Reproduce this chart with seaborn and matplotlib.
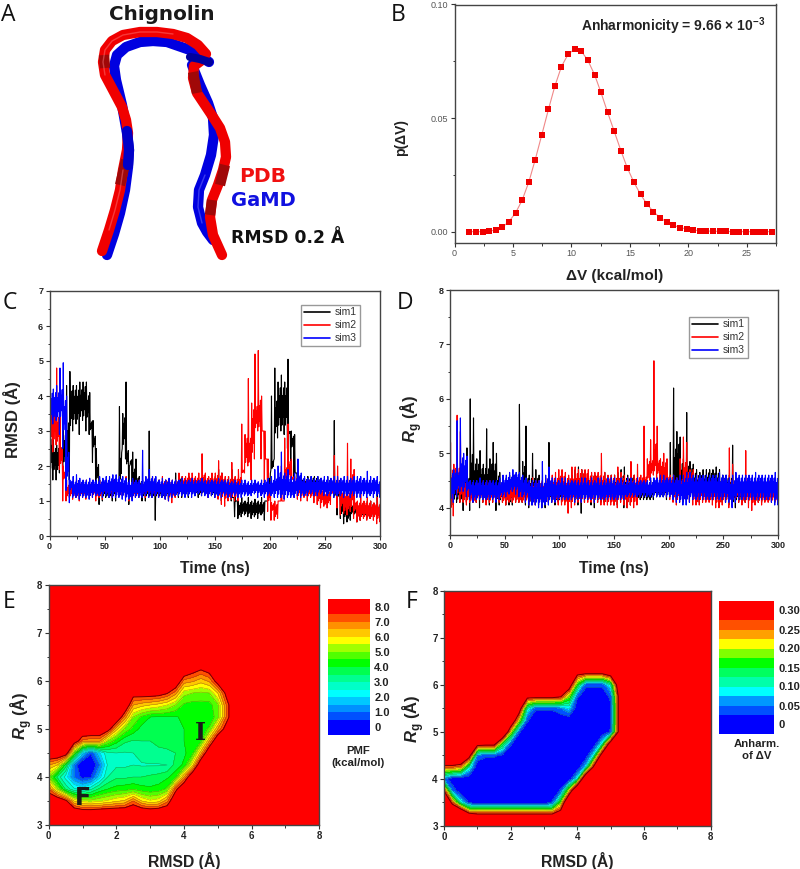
"""Chignolin GaMD figure: structure sketch, dV histogram, time series and 2D maps."""
import numpy as np
import pandas as pd
import matplotlib
matplotlib.use("Agg")
import matplotlib.pyplot as plt
from matplotlib.colors import ListedColormap, BoundaryNorm
from matplotlib.ticker import MultipleLocator
import seaborn as sns

# --- panel B
DV_X = [1.25, 1.82, 2.40, 2.97, 3.54, 4.08, 4.65, 5.22, 5.79, 6.36, 6.90, 7.47, 8.04, 8.58, 9.15, 9.72,
        10.29, 10.84, 11.41, 11.98, 12.52, 13.09, 13.66, 14.23, 14.77, 15.34, 15.91, 16.48, 17.02, 17.59,
        18.16, 18.73, 19.28, 19.85, 20.42, 20.99, 21.53, 22.10, 22.67, 23.24, 23.78, 24.35, 24.92, 25.49,
        26.03, 26.60, 27.17]
DV_P = [0, 0, 0, .0001, .0009, .0019, .0044, .0082, .0139, .0219, .0316, .0427, .0539, .0640, .0727, .0781,
        .0804, .0795, .0754, .0691, .0614, .0526, .0442, .0357, .0282, .0218, .0164, .0120, .0088, .0061,
        .0042, .0028, .0018, .0012, .0007, .0004, .0003, .0002, .0001, .0001, 0, 0, 0, 0, 0, 0, 0]

# --- panels C and D: low/high of the noise band, one pair per 3 ns
C_SIM1_LOW = [1.8, 1.6, 1.6, 1.8, 2.0, 1.6, 1.6, 3.0, 3.2, 2.9,
              3.3, 3.0, 2.9, 2.1, 1.2, 0.9, 1.0, 1.1, 1.1, 1.0,
              1.0, 1.4, 2.5, 2.2, 0.9, 1.3, 1.2, 1.1, 1.0, 1.0,
              1.1, 1.1, 0.45, 1.1, 1.1, 1.1, 1.05, 1.1, 1.15, 1.1,
              1.1, 1.15, 1.1, 1.2, 1.15, 1.1, 1.15, 1.2, 1.1, 1.15,
              1.1, 1.1, 1.0, 1.15, 1.1, 1.0, 0.55, 0.5, 0.55, 0.6,
              0.55, 0.5, 0.55, 0.5, 0.6, 0.45, 1.0, 1.9, 2.2, 2.8,
              3.0, 2.9, 2.5, 1.8, 1.6, 1.4, 1.2, 1.3, 1.3, 1.2,
              1.25, 1.2, 1.3, 1.2, 1.25, 1.1, 1.1, 0.6, 0.5, 0.35,
              0.4, 0.45, 0.6, 0.4, 0.45, 0.55, 0.5, 0.5, 0.55, 0.5, 0.5]
C_SIM1_HIGH = [3.4, 2.9, 2.6, 3.0, 3.4, 4.3, 4.7, 4.3, 4.3, 4.4,
               4.4, 4.4, 4.1, 3.3, 2.5, 1.6, 1.5, 1.6, 1.5, 1.6,
               1.5, 3.7, 3.5, 4.4, 2.0, 2.4, 2.2, 1.7, 1.6, 1.5,
               3.0, 1.6, 1.5, 1.6, 1.5, 1.6, 1.6, 1.5, 1.8, 1.7,
               1.7, 1.6, 1.7, 1.5, 1.6, 1.5, 1.6, 1.5, 1.6, 1.5,
               1.7, 1.9, 1.8, 1.6, 1.7, 1.9, 1.1, 1.0, 1.1, 1.0,
               1.1, 1.0, 1.05, 1.0, 1.1, 1.0, 1.9, 4.0, 4.8, 4.4,
               4.6, 4.4, 5.05, 3.0, 2.9, 1.8, 1.7, 1.65, 1.7, 1.7,
               1.7, 1.7, 1.65, 1.6, 1.7, 1.6, 3.3, 1.6, 1.4, 1.0,
               0.95, 0.9, 1.0, 0.9, 0.9, 0.8, 1.0, 1.0, 0.9, 1.3, 1.0]
C_SIM2_LOW = [2.0, 2.4, 2.6, 1.9, 1.0, 1.0, 1.1, 1.05, 1.1, 1.0,
              1.1, 1.05, 1.15, 1.1, 1.0, 1.1, 1.05, 1.2, 1.2, 1.1,
              1.15, 1.2, 1.15, 1.1, 1.0, 1.05, 1.1, 1.1, 1.2, 1.1,
              1.2, 1.2, 1.15, 1.1, 1.2, 1.05, 1.0, 0.95, 1.1, 1.2,
              1.25, 1.2, 1.3, 1.2, 1.25, 1.3, 1.2, 1.25, 1.1, 1.2,
              1.1, 1.05, 0.9, 0.85, 1.0, 1.05, 1.0, 1.0, 1.4, 1.8,
              2.0, 1.6, 2.2, 3.0, 2.2, 1.5, 0.7, 0.45, 0.45, 0.5,
              1.0, 1.0, 1.6, 1.2, 1.1, 1.05, 1.0, 1.1, 1.0, 1.1,
              0.95, 0.9, 0.8, 0.85, 0.8, 0.9, 1.2, 0.8, 0.6, 0.65,
              0.6, 0.7, 0.5, 0.4, 0.45, 0.5, 0.45, 0.5, 0.45, 0.35, 0.4]
C_SIM2_HIGH = [4.3, 4.0, 4.8, 3.5, 2.0, 1.6, 1.5, 1.5, 1.6, 1.5,
               1.5, 1.6, 1.5, 1.6, 1.5, 1.6, 1.5, 1.6, 1.5, 1.6,
               1.5, 1.6, 1.5, 1.7, 1.5, 1.6, 1.5, 1.6, 1.5, 1.6,
               1.7, 1.7, 1.5, 1.6, 1.7, 1.6, 1.6, 1.6, 1.6, 1.8,
               1.7, 1.7, 1.8, 1.8, 1.7, 1.8, 2.35, 1.8, 1.7, 1.8,
               1.8, 2.15, 1.8, 1.7, 1.7, 2.1, 1.7, 1.9, 3.2, 2.9,
               4.5, 3.8, 5.2, 5.3, 4.0, 3.0, 2.2, 0.95, 1.0, 1.0,
               2.0, 2.8, 3.2, 2.2, 1.7, 1.7, 1.6, 1.6, 1.6, 1.5,
               1.5, 1.5, 1.4, 1.4, 1.3, 1.6, 2.3, 2.0, 1.3, 1.3,
               2.65, 2.2, 1.9, 1.0, 1.2, 1.0, 1.1, 1.0, 0.95, 1.1, 1.0]
C_SIM3_LOW = [3.0, 3.2, 3.3, 2.9, 2.5, 1.3, 0.95, 1.1, 1.1, 1.05,
              1.1, 1.1, 1.05, 1.1, 1.15, 1.15, 1.1, 1.15, 1.1, 1.1,
              1.1, 1.1, 1.05, 1.0, 1.05, 1.0, 1.1, 1.1, 1.1, 1.15,
              1.1, 1.1, 1.15, 1.1, 1.1, 1.05, 1.0, 1.1, 1.15, 1.15,
              1.15, 1.1, 1.15, 1.1, 1.15, 1.2, 1.15, 1.15, 1.1, 1.15,
              1.1, 1.15, 1.1, 1.15, 1.1, 1.1, 1.15, 1.1, 1.1, 1.15,
              1.15, 1.15, 1.2, 1.1, 1.15, 1.1, 1.15, 1.15, 1.1, 1.1,
              1.1, 1.05, 1.1, 1.1, 1.1, 1.15, 1.1, 1.15, 1.15, 1.2,
              1.15, 1.15, 1.2, 1.15, 1.15, 1.15, 1.1, 1.15, 1.15, 1.1,
              1.15, 1.1, 1.15, 1.1, 1.1, 1.15, 1.1, 1.15, 1.1, 1.15, 1.1]
C_SIM3_HIGH = [4.3, 4.2, 4.3, 4.8, 4.95, 4.0, 1.6, 1.7, 1.75, 1.65,
               1.6, 1.6, 1.65, 1.6, 1.6, 1.7, 1.65, 1.7, 1.7, 1.75,
               1.75, 1.7, 1.7, 1.65, 1.6, 1.65, 1.6, 1.6, 2.45, 1.7,
               1.9, 1.7, 1.7, 1.6, 1.65, 1.6, 1.65, 1.6, 1.6, 1.6,
               1.65, 1.6, 1.6, 1.65, 1.6, 1.6, 1.65, 1.6, 1.6, 1.6,
               1.6, 1.65, 1.6, 1.6, 1.6, 1.55, 1.6, 1.55, 1.6, 1.6,
               1.55, 1.6, 1.6, 1.55, 1.6, 1.6, 1.65, 1.7, 1.9, 2.0,
               2.4, 1.8, 1.9, 1.7, 1.8, 2.2, 1.8, 1.7, 1.65, 1.7,
               1.65, 1.7, 1.65, 1.7, 1.7, 1.65, 1.7, 1.7, 1.65, 1.7,
               1.7, 1.65, 1.7, 1.7, 1.7, 1.65, 1.85, 1.7, 1.65, 1.7, 1.6]

D_SIM1_LOW = [4.05, 4.05, 4.1, 4.1, 3.95, 4.1, 3.95, 4.1, 4.1, 4.0,
              4.1, 4.1, 4.05, 4.1, 3.95, 4.05, 4.1, 4.05, 4.05, 4.05,
              4.1, 4.1, 4.1, 4.05, 4.0, 4.05, 4.1, 4.05, 4.0, 4.0,
              4.1, 4.1, 4.05, 4.1, 4.1, 4.1, 4.1, 4.1, 4.1, 4.05,
              3.9, 4.1, 4.15, 4.05, 4.0, 4.1, 4.1, 4.1, 4.1, 4.1,
              4.05, 4.05, 4.1, 4.0, 4.0, 4.05, 4.15, 4.15, 4.15, 4.15,
              4.15, 4.15, 4.15, 4.2, 4.2, 4.2, 4.15, 4.2, 4.2, 4.15,
              4.15, 4.1, 4.15, 4.15, 4.15, 4.15, 4.1, 4.2, 4.15, 4.15,
              4.15, 4.15, 4.1, 4.1, 4.1, 4.05, 4.05, 4.0, 4.1, 4.1,
              4.1, 4.15, 4.1, 4.1, 4.1, 4.1, 4.15, 4.15, 4.15, 4.1, 4.1]
D_SIM1_HIGH = [4.6, 4.6, 4.65, 4.6, 4.6, 5.1, 6.0, 5.65, 4.9, 5.05,
               4.8, 5.45, 4.9, 5.2, 5.0, 4.65, 4.5, 4.55, 4.6, 4.6,
               4.6, 5.9, 4.85, 5.5, 4.6, 5.0, 4.7, 4.6, 4.5, 4.5,
               5.2, 4.5, 4.5, 4.55, 4.5, 4.5, 4.55, 4.6, 4.7, 4.75,
               4.7, 4.65, 4.6, 4.6, 4.6, 4.6, 4.6, 4.65, 4.55, 4.6,
               4.6, 4.65, 4.7, 4.75, 4.6, 4.7, 4.6, 4.5, 4.45, 4.5,
               4.5, 4.5, 4.5, 4.5, 4.5, 4.55, 4.6, 5.2, 6.2, 5.4,
               5.3, 4.9, 5.75, 4.85, 4.8, 4.7, 4.65, 4.7, 4.7, 4.7,
               4.7, 4.75, 4.7, 4.6, 4.6, 4.6, 5.15, 4.55, 4.5, 4.5,
               4.45, 4.5, 4.45, 4.5, 4.45, 4.5, 4.45, 4.5, 4.45, 4.5, 4.45]
D_SIM2_LOW = [3.9, 3.85, 4.2, 4.1, 4.1, 4.05, 4.1, 4.1, 4.1, 4.15,
              4.1, 4.05, 4.1, 4.1, 4.15, 4.1, 4.1, 4.05, 4.1, 4.1,
              4.1, 4.1, 4.1, 4.1, 4.05, 4.1, 4.05, 4.1, 4.1, 4.1,
              4.1, 4.1, 4.1, 4.05, 4.05, 4.05, 3.9, 4.0, 4.05, 4.1,
              4.1, 4.1, 4.1, 4.1, 4.1, 4.1, 4.05, 4.05, 4.05, 4.05,
              4.05, 4.0, 4.1, 4.05, 4.0, 4.05, 4.0, 4.05, 4.2, 4.2,
              4.3, 4.5, 4.6, 4.4, 4.3, 4.3, 4.2, 4.15, 4.1, 4.05,
              4.1, 4.3, 4.2, 4.1, 4.05, 4.05, 4.05, 4.1, 4.1, 4.1,
              4.05, 4.0, 4.0, 4.05, 4.1, 4.0, 4.1, 4.15, 4.1, 4.05,
              4.1, 4.0, 3.95, 4.05, 4.1, 4.05, 4.1, 4.1, 4.1, 4.1, 4.1]
D_SIM2_HIGH = [5.2, 4.8, 5.7, 5.4, 4.6, 4.5, 4.5, 4.4, 4.45, 4.5,
               4.5, 4.5, 4.5, 4.45, 4.4, 4.4, 4.45, 4.5, 4.45, 4.5,
               4.5, 4.5, 4.45, 4.5, 4.5, 4.55, 4.5, 4.5, 4.5, 4.55,
               4.6, 4.6, 4.65, 4.7, 4.7, 4.65, 4.6, 4.75, 4.75, 4.7,
               4.7, 4.7, 4.7, 4.65, 4.65, 4.65, 5.0, 4.65, 4.6, 4.6,
               4.6, 4.75, 4.65, 4.6, 4.55, 4.85, 4.6, 4.8, 4.6, 5.5,
               4.9, 5.25, 6.7, 5.5, 4.9, 5.0, 4.9, 4.6, 4.6, 4.55,
               4.9, 5.3, 5.2, 4.7, 4.7, 4.6, 4.55, 4.55, 4.5, 4.5,
               4.5, 4.5, 4.5, 4.5, 4.55, 5.1, 4.8, 4.5, 4.45, 4.5,
               5.05, 4.5, 4.45, 4.5, 4.45, 4.5, 4.45, 4.5, 4.45, 4.45, 4.45]
D_SIM3_LOW = [4.1, 4.1, 4.2, 4.3, 4.3, 4.2, 4.15, 4.1, 4.15, 4.15,
              4.15, 4.15, 4.15, 4.15, 4.1, 4.15, 4.2, 4.2, 4.25, 4.3,
              4.25, 4.2, 4.2, 4.1, 4.05, 4.05, 4.05, 4.0, 4.0, 4.05,
              4.05, 4.1, 4.1, 4.15, 4.15, 4.15, 4.15, 4.15, 4.1, 4.15,
              4.1, 4.15, 4.15, 4.15, 4.1, 4.15, 4.15, 4.15, 4.15, 4.15,
              4.15, 4.15, 4.15, 4.15, 4.2, 4.2, 4.2, 4.2, 4.2, 4.2,
              4.2, 4.2, 4.2, 4.2, 4.2, 4.2, 4.2, 4.2, 4.15, 4.1,
              4.1, 4.05, 4.05, 4.1, 4.15, 4.15, 4.15, 4.15, 4.15, 4.15,
              4.15, 4.15, 4.15, 4.15, 4.1, 4.1, 4.0, 4.1, 4.15, 4.15,
              4.15, 4.15, 4.15, 4.15, 4.15, 4.15, 4.15, 4.15, 4.1, 4.05, 4.05]
D_SIM3_HIGH = [4.7, 4.7, 5.6, 5.65, 5.0, 4.95, 4.5, 4.5, 4.5, 4.55,
               4.5, 4.5, 4.5, 4.5, 4.5, 4.55, 4.6, 4.6, 4.65, 4.7,
               4.65, 4.65, 4.6, 4.55, 4.5, 4.5, 4.5, 4.5, 4.85, 4.6,
               4.75, 4.55, 4.55, 4.5, 4.55, 4.55, 4.5, 4.5, 4.5, 4.5,
               4.55, 4.55, 4.5, 4.55, 4.5, 4.55, 4.55, 4.5, 4.55, 4.55,
               4.55, 4.5, 4.55, 4.5, 4.55, 4.55, 4.5, 4.55, 4.5, 4.5,
               4.5, 4.55, 4.55, 4.55, 4.6, 4.6, 4.55, 4.55, 4.6, 4.55,
               4.6, 4.6, 4.65, 4.65, 4.6, 4.6, 4.6, 4.6, 4.6, 4.6,
               4.6, 4.6, 4.65, 4.6, 4.6, 4.55, 4.6, 4.65, 4.6, 4.6,
               4.6, 4.6, 4.6, 4.65, 4.6, 4.6, 4.6, 4.6, 4.6, 4.65, 4.6]

SIM_NAMES = ["sim1", "sim2", "sim3"]
SIM_COLORS = ["#000000", "#ff0000", "#0000ff"]

# --- panels E and F: values on a 0.25 A grid, beyond it everything is the top band
GRID_RMSD = [0, .25, .5, .75, 1, 1.25, 1.5, 1.75, 2, 2.25, 2.5, 2.75, 3, 3.25, 3.5, 3.75, 4, 4.25, 4.5, 4.75,
             5, 5.25, 5.5]
GRID_RG = [3, 3.25, 3.5, 3.75, 4, 4.25, 4.5, 4.75, 5, 5.25, 5.5, 5.75, 6, 6.25, 6.5]
PMF_GRID = [
    [8.6] * 23,
    [8.6, 8.6, 8.6, 8.6, 8.4, 8.4, 8.5, 8.6, 8.6, 8.6, 8.6, 8.6, 8.5, 8.6, 8.6] + [8.6] * 8,
    [8.6, 8.6, 7.8, 6.0, 5.3, 5.2, 5.4, 5.6, 5.9, 6.1, 7.0, 6.0, 5.6, 5.8, 6.8, 8.6] + [8.6] * 7,
    [7.0, 5.2, 3.4, 2.6, 2.3, 2.9, 3.6, 4.0, 4.2, 4.3, 4.4, 4.2, 4.1, 4.2, 4.6, 7.2, 8.6] + [8.6] * 6,
    [5.0, 3.4, 2.3, 1.0, 0.3, 0.5, 1.8, 3.0, 3.4, 3.4, 3.5, 3.5, 3.6, 3.7, 3.9, 4.3, 6.5, 8.6] + [8.6] * 5,
    [6.5, 6.0, 3.8, 1.0, -0.3, -0.3, 1.0, 2.6, 2.9, 2.9, 3.0, 2.95, 2.95, 2.95, 3.0, 3.7, 4.1, 5.8, 8.6] + [8.6] * 4,
    [8.6, 8.6, 8.3, 4.6, 1.8, 0.6, 1.9, 2.9, 3.0, 2.95, 3.0, 3.2, 3.4, 3.45, 3.45, 3.5, 3.9, 4.3, 6.3, 8.6] + [8.6] * 3,
    [8.6, 8.6, 8.6, 8.2, 6.8, 6.6, 6.6, 5.0, 4.2, 3.6, 3.45, 3.5, 3.5, 3.55, 3.6, 3.7, 4.0, 4.1, 4.4, 6.5, 8.6] + [8.6] * 2,
    [8.6] * 7 + [8.0, 6.2, 4.9, 4.3, 3.8, 3.8, 3.8, 3.8, 3.9, 4.0, 4.2, 4.2, 4.6, 6.5, 8.0, 8.6],
    [8.6] * 8 + [8.6, 6.8, 5.0, 4.4, 4.0, 3.95, 3.95, 3.95, 4.1, 4.2, 4.1, 4.1, 4.8, 7.0, 8.6],
    [8.6] * 9 + [8.6, 6.5, 6.2, 6.0, 5.8, 5.5, 5.0, 4.4, 4.3, 4.3, 4.3, 4.9, 7.0, 8.6],
    [8.6] * 10 + [8.0, 8.1, 8.1, 8.0, 7.6, 6.7, 5.2, 5.0, 4.9, 5.0, 6.0, 7.8, 8.6],
    [8.6] * 15 + [8.6, 6.8, 6.6, 6.2, 6.6, 8.0, 8.6, 8.6],
    [8.6] * 16 + [8.6, 8.0, 7.6, 8.0, 8.6, 8.6, 8.6],
    [8.6] * 23,
]
ANH_GRID = [
    [.42] * 23,
    [.42, .42, .42, .3] + [.28] * 9 + [.28, .33] + [.42] * 8,
    [.42, .25, .1, .02] + [0] * 9 + [.03, .17, .42, .42] + [.42] * 6,
    [.27, .05] + [0] * 12 + [.03, .2, .42, .42] + [.42] * 5,
    [.05] + [0] * 15 + [.1, .4, .42] + [.42] * 4,
    [.25, .25, .23, .1] + [0] * 13 + [.08, .3, .42] + [.42] * 3,
    [.42, .42, .42, .32, .05, .03, .03, .02] + [0] * 10 + [.1, .33, .42] + [.42] * 2,
    [.42] * 4 + [.32, .31, .31, .15, .03] + [0] * 10 + [.1, .33, .42, .42],
    [.42] * 7 + [.42, .2, .03] + [0] * 10 + [.03, .3, .42],
    [.42] * 8 + [.37, .2, .03] + [0] * 9 + [.02, .3, .42],
    [.42] * 9 + [.33, .1, .03, .03, .03, .05, .08, 0, 0, 0, 0, .02, .3, .42],
    [.42] * 10 + [.3, .3, .3, .3, .28, .18, .03, .01, .01, .01, .03, .3, .42],
    [.42] * 15 + [.33, .15, .03, .03, .03, .1, .35, .42],
    [.42] * 16 + [.3, .29, .29, .29, .33, .42, .42],
    [.42] * 23,
]
PMF_LEVELS = [-.5, .5, 1, 1.5, 2, 2.5, 3, 3.5, 4, 4.5, 5, 5.5, 6, 6.5, 7, 7.5, 8.5]
PMF_COLORS = ["#0000ff", "#0050ff", "#0090ff", "#00c8ff", "#00ffff", "#00ffc8", "#00ff90", "#00ff50", "#00ff00",
              "#50ff00", "#a0ff00", "#ffff00", "#ffc800", "#ff9000", "#ff5000", "#ff0000"]
PMF_TICKS = [0, 1, 2, 3, 4, 5, 6, 7, 8]
PMF_TICKLABELS = ["0", "1.0", "2.0", "3.0", "4.0", "5.0", "6.0", "7.0", "8.0"]
ANH_LEVELS = [-.025, .025, .05, .075, .1, .125, .15, .175, .2, .225, .25, .275, .325]
ANH_COLORS = ["#0000ff", "#0050ff", "#0098ff", "#00ffff", "#00ffaa", "#00ff60", "#00ff00", "#80ff00", "#ffff00",
              "#ffa000", "#ff5000", "#ff0000"]
ANH_TICKS = [0, .05, .1, .15, .2, .25, .3]
ANH_TICKLABELS = ["0", "0.05", "0.10", "0.15", "0.20", "0.25", "0.30"]

# --- panel A: tube centre lines, in figure pixels
PDB_LEFT_X = [102, 109, 115, 120, 123, 127, 128, 126, 122, 113, 105, 103, 105, 112, 123, 140, 157, 173, 187, 198, 206]
PDB_LEFT_Y = [251, 230, 210, 190, 170, 150, 133, 120, 107, 90, 75, 62, 50, 41, 35, 32, 32, 34, 38, 45, 54]
PDB_RIGHT_X = [202, 194, 193, 197, 205, 213, 220, 225, 226, 223, 218, 212, 210, 213, 222]
PDB_RIGHT_Y = [60, 66, 78, 93, 105, 117, 128, 142, 157, 170, 185, 200, 217, 235, 255]
GAMD_LEFT_X = [107, 114, 120, 125, 128, 129, 127, 122, 116, 114, 117, 126, 140, 153, 167, 190, 209]
GAMD_LEFT_Y = [255, 234, 213, 190, 167, 150, 133, 105, 80, 66, 55, 47, 42, 41, 42, 50, 62]
GAMD_RIGHT_X = [192, 200, 208, 213, 214, 211, 205, 199, 198, 202, 207, 213]
GAMD_RIGHT_Y = [65, 85, 103, 118, 135, 155, 175, 190, 207, 223, 232, 240]
SHADE_X = [[126, 120], [104, 105], [193, 197], [225, 220], [212, 210]]
SHADE_Y = [[160, 185], [55, 68], [72, 93], [165, 185], [200, 215]]
BLUE_TOP_X = [127, 129, 128]
BLUE_TOP_Y = [131, 150, 165]
BLUE_END_X = [190, 200, 209]
BLUE_END_Y = [57, 59, 62]

sns.set_theme(style="ticks")
plt.rcParams["font.family"] = ["Liberation Sans", "DejaVu Sans"]
plt.rcParams["mathtext.fontset"] = "custom"
plt.rcParams["mathtext.rm"] = "Liberation Sans:bold"
plt.rcParams["mathtext.bf"] = "Liberation Sans:bold"
plt.rcParams["mathtext.bfit"] = "Liberation Sans:italic:bold"

W, H = 800, 869
fig = plt.figure(figsize=(W / 100, H / 100), dpi=100)


def px_axes(left, top, right, bottom, **kw):
    return fig.add_axes([left / W, 1 - bottom / H, (right - left) / W, (bottom - top) / H], **kw)


def style_axes(ax, xmajor, xminor, ymajor, yminor, size, bold=True, color="#222222"):
    ax.xaxis.set_major_locator(MultipleLocator(xmajor))
    ax.xaxis.set_minor_locator(MultipleLocator(xminor))
    ax.yaxis.set_major_locator(MultipleLocator(ymajor))
    ax.yaxis.set_minor_locator(MultipleLocator(yminor))
    ax.tick_params(which="major", length=3, width=0.8, color="#333333", labelsize=size, pad=1.5, labelcolor=color)
    ax.tick_params(which="minor", length=1.8, width=0.7, color="#333333")
    for side in ("top", "right"):
        ax.spines[side].set_visible(True)
    for spine in ax.spines.values():
        spine.set_linewidth(1.0)
        spine.set_color("#444444")
    for lab in ax.get_xticklabels() + ax.get_yticklabels():
        lab.set_fontweight("bold" if bold else "normal")
    ax.set_xlabel("")
    ax.set_ylabel("")


def sim_frame(lows, highs):
    # one full swing per sample keeps spikes thin, inset swings fill the core of the band
    rows = []
    for name, lo, hi in zip(SIM_NAMES, lows, highs):
        last = len(lo) - 1
        for i, (a, b) in enumerate(zip(lo, hi)):
            near_lo = max(lo[max(i - 1, 0)], a, lo[min(i + 1, last)])
            near_hi = min(hi[max(i - 1, 0)], b, hi[min(i + 1, last)])
            near_lo, near_hi = min(near_lo, near_hi), max(near_lo, near_hi)
            span = near_hi - near_lo
            t = i * 3.0
            rows += [(name, t, a), (name, t + .5, b),
                     (name, t + 1, near_lo + .12 * span), (name, t + 1.5, near_hi - .28 * span),
                     (name, t + 2, near_lo + .28 * span), (name, t + 2.5, near_hi - .12 * span)]
    return pd.DataFrame(rows, columns=["sim", "time", "value"])


def sim_panel(ax, lows, highs, ylim, legend_box):
    sns.lineplot(data=sim_frame(lows, highs), x="time", y="value", hue="sim", palette=SIM_COLORS,
                 estimator=None, sort=False, linewidth=0.8, ax=ax)
    ax.set_xlim(0, 300)
    ax.set_ylim(*ylim)
    ax.legend(loc="lower left", bbox_to_anchor=legend_box, bbox_transform=fig.transFigure, frameon=True,
              fontsize=7.5, handlelength=2.5, handletextpad=0.5, labelspacing=0.3, borderpad=0.25, fancybox=False,
              edgecolor="#999999", framealpha=1, labelcolor="#333333", borderaxespad=0)
    for line in ax.get_legend().get_lines():
        line.set_linewidth(1.2)


def map_panel(ax, cax, grid, levels, colors, ticks, ticklabels):
    cmap = ListedColormap(sns.color_palette(colors))
    cmap.set_over(colors[-1])
    norm = BoundaryNorm(levels, cmap.N)
    ax.set_facecolor(colors[-1])
    cf = ax.contourf(GRID_RMSD, GRID_RG, grid, levels=levels, cmap=cmap, norm=norm, extend="max")
    ax.contour(GRID_RMSD, GRID_RG, grid, levels=levels[1:-2], colors="#302020", linewidths=0.35, alpha=0.45)
    ax.contour(GRID_RMSD, GRID_RG, grid, levels=[levels[-2]], colors="#700000", linewidths=0.7)
    ax.set_xlim(0, 8)
    ax.set_ylim(3, 8)
    style_axes(ax, 2, 1, 1, .5, 7)
    cb = fig.colorbar(cf, cax=cax, spacing="proportional", extendrect=False, extendfrac=0)
    cb.set_ticks(ticks, labels=ticklabels)
    cb.ax.minorticks_off()
    cb.ax.tick_params(length=0, labelsize=8, pad=3, labelcolor="#222222")
    for lab in cb.ax.get_yticklabels():
        lab.set_fontweight("bold")
    cb.outline.set_visible(False)


# panel A lives on an overlay in pixel coordinates, with all loose labels
over = fig.add_axes([0, 0, 1, 1], zorder=5)
over.set_xlim(0, W)
over.set_ylim(H, 0)
over.axis("off")
over.patch.set_alpha(0)
TUBE = 7.4
over.plot(GAMD_RIGHT_X, GAMD_RIGHT_Y, color="#0000e0", lw=TUBE, solid_capstyle="round", solid_joinstyle="round")
over.plot(GAMD_LEFT_X, GAMD_LEFT_Y, color="#0000e0", lw=TUBE, solid_capstyle="round", solid_joinstyle="round")
over.plot(PDB_LEFT_X, PDB_LEFT_Y, color="#f00000", lw=TUBE, solid_capstyle="round", solid_joinstyle="round")
over.plot(PDB_RIGHT_X, PDB_RIGHT_Y, color="#f00000", lw=TUBE, solid_capstyle="round", solid_joinstyle="round")
for sx, sy in zip(SHADE_X, SHADE_Y):
    over.plot(sx, sy, color="#a00808", lw=TUBE, solid_capstyle="butt")
over.plot(BLUE_TOP_X, BLUE_TOP_Y, color="#0000c8", lw=TUBE, solid_capstyle="round")
over.plot(BLUE_END_X, BLUE_END_Y, color="#00009c", lw=TUBE * 0.8, solid_capstyle="round")
over.plot(PDB_LEFT_X[10:18], PDB_LEFT_Y[10:18], color="#ff8080", lw=1.0, alpha=0.45)
over.plot(PDB_LEFT_X[1:5], PDB_LEFT_Y[1:5], color="#ff8080", lw=1.0, alpha=0.45)
over.plot(GAMD_RIGHT_X[6:10], GAMD_RIGHT_Y[6:10], color="#8080ff", lw=1.0, alpha=0.45)

over.text(162, 15, "Chignolin", family="DejaVu Sans", weight="bold", fontsize=14.4, ha="center", va="center", color="k")
over.text(263, 176, "PDB", family="DejaVu Sans", weight="bold", fontsize=14.6, ha="center", va="center", color="#f01010")
over.text(263, 201, "GaMD", family="DejaVu Sans", weight="bold", fontsize=14, ha="center", va="center", color="#1010e0")
over.text(288, 238, "RMSD 0.2 Å", family="DejaVu Sans", weight="bold", fontsize=12.4, ha="center", va="center", color="#111111")
for letter, lx, ly in [("A", 8, 15), ("B", 398, 15), ("C", 10, 303), ("D", 405, 303), ("E", 9, 602), ("F", 412, 602)]:
    over.text(lx, ly, letter, family="Open Sans", fontsize=16.5, ha="center", va="center", color="#111111")


def xlab(x, y, s, size=11):
    over.text(x, y, s, weight="bold", fontsize=size, ha="center", va="center", color="#222222")


def ylab(x, y, s, size=11):
    over.text(x, y, s, weight="bold", fontsize=size, ha="center", va="center", rotation=90, color="#222222")


xlab(615, 276, "ΔV (kcal/mol)")
ylab(401, 138, "p(ΔV)", 10)
xlab(215, 568, "Time (ns)", 11.3)
xlab(614, 568, "Time (ns)", 11.3)
ylab(12, 420, "RMSD (Å)", 12)
ylab(411, 419, r"$\mathbfit{R}_{\mathrm{g}}$ (Å)", 12)
xlab(184, 861, "RMSD (Å)", 11.3)
xlab(577, 861, "RMSD (Å)", 11.3)
ylab(21, 716, r"$\mathbfit{R}_{\mathrm{g}}$ (Å)", 12)
ylab(413, 719, r"$\mathbfit{R}_{\mathrm{g}}$ (Å)", 12)
xlab(358, 757, "PMF\n(kcal/mol)", 8.2)
xlab(757, 750, "Anharm.\nof ΔV", 8.2)

# panel B
ax_b = px_axes(454.5, 4.5, 776, 243)
sns.lineplot(x=DV_X, y=DV_P, color="#f08888", linewidth=0.8, ax=ax_b)
sns.scatterplot(x=DV_X, y=DV_P, color="#f00000", marker="s", s=17, linewidth=0, ax=ax_b, zorder=3)
ax_b.set_xlim(0, 27.5)
ax_b.set_ylim(-0.005, 0.10)
style_axes(ax_b, 5, 2.5, .05, .025, 6.5, bold=False, color="#555555")
ax_b.yaxis.set_major_formatter(lambda v, _: f"{v:.2f}")
over.text(673, 26, r"Anharmonicity = 9.66 $\times$ 10$^{-3}$", weight="bold", fontsize=10, ha="center", va="center",
          color="#222222")

# panels C and D
ax_c = px_axes(49.5, 291, 380, 536)
sim_panel(ax_c, [C_SIM1_LOW, C_SIM2_LOW, C_SIM3_LOW], [C_SIM1_HIGH, C_SIM2_HIGH, C_SIM3_HIGH], (0, 7),
          (301 / W, 1 - 346 / H))
style_axes(ax_c, 50, 25, 1, .5, 6.5)

ax_d = px_axes(450, 290, 778, 535)
sim_panel(ax_d, [D_SIM1_LOW, D_SIM2_LOW, D_SIM3_LOW], [D_SIM1_HIGH, D_SIM2_HIGH, D_SIM3_HIGH], (3.5, 8),
          (689 / W, 1 - 358 / H))
style_axes(ax_d, 50, 25, 1, .5, 6.5)

# panels E and F
ax_e = px_axes(48.7, 585, 319.3, 825)
cax_e = px_axes(328, 599, 370, 735)
map_panel(ax_e, cax_e, PMF_GRID, PMF_LEVELS, PMF_COLORS, PMF_TICKS, PMF_TICKLABELS)
ax_e.text(1.02, 3.56, "F", family="DejaVu Sans", weight="bold", fontsize=17, ha="center", va="center", color="k")
ax_e.text(4.5, 4.91, "I", family="DejaVu Serif", weight="bold", fontsize=17, ha="center", va="center", color="k")

ax_f = px_axes(444, 590.7, 710.7, 826)
cax_f = px_axes(718.7, 601, 774, 734)
map_panel(ax_f, cax_f, ANH_GRID, ANH_LEVELS, ANH_COLORS, ANH_TICKS, ANH_TICKLABELS)

fig.savefig("out.png", dpi=100)
